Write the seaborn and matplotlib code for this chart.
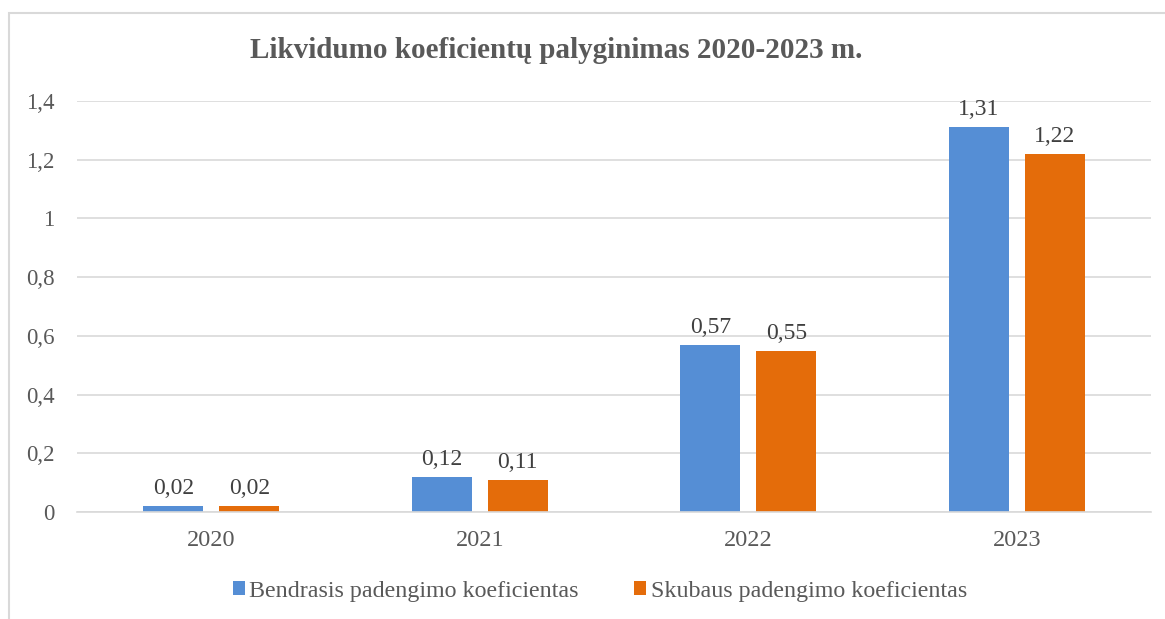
import matplotlib
matplotlib.use("Agg")
import matplotlib.pyplot as plt
import seaborn as sns
import pandas as pd
from matplotlib.patches import Rectangle, Patch
from matplotlib.ticker import FuncFormatter

years = ["2020", "2021", "2022", "2023"]
series_names = ["Bendrasis padengimo koeficientas", "Skubaus padengimo koeficientas"]
bendrasis = [0.02, 0.12, 0.57, 1.31]
skubaus = [0.02, 0.11, 0.55, 1.22]
yticks = [0, 0.2, 0.4, 0.6, 0.8, 1.0, 1.2, 1.4]
title = "Likvidumo koeficientų palyginimas 2020-2023 m."
colors = ["#558ED5", "#E46C0A"]

df = pd.DataFrame({
    "Metai": years * 2,
    "Reikšmė": bendrasis + skubaus,
    "Serija": [series_names[0]] * 4 + [series_names[1]] * 4,
})

sns.set_theme(style="white")
plt.rcParams["font.family"] = ["Liberation Serif", "DejaVu Serif"]

fig = plt.figure(figsize=(11.65, 6.19), dpi=100)
ax = fig.add_axes([77 / 1165, 1 - 512 / 619, (1151 - 77) / 1165, (512 - 101) / 619])

sns.barplot(data=df, x="Metai", y="Reikšmė", hue="Serija", palette=colors,
            width=0.567, gap=0.21, ax=ax, legend=False, saturation=1, linewidth=0)

def fmt(v):
    s = f"{v:.2f}".rstrip("0").rstrip(".") if v != 0 else "0"
    return s.replace(".", ",")

for cont in ax.containers:
    ax.bar_label(cont, labels=[f"{b.get_height():.2f}".replace(".", ",") for b in cont],
                 padding=5, fontsize=17, color="#404040")

ax.set_ylim(0, 1.4)
ax.set_yticks(yticks)
ax.yaxis.set_major_formatter(FuncFormatter(lambda v, p: fmt(round(v, 2))))
ax.set_xlim(-0.5, 3.5)
ax.grid(axis="y", color="#D9D9D9", linewidth=1.2)
ax.set_axisbelow(True)
for s in ["left", "right", "top"]:
    ax.spines[s].set_visible(False)
ax.spines["bottom"].set_color("#D9D9D9")
ax.spines["bottom"].set_linewidth(1.2)
ax.tick_params(axis="y", length=0, pad=16, labelsize=16.5, labelcolor="#595959")
ax.tick_params(axis="x", length=0, pad=13, labelsize=17.5, labelcolor="#595959")
ax.set_xlabel("")
ax.set_ylabel("")

fig.text(556 / 1165, 1 - 51 / 619, title, ha="center", va="center",
         fontsize=21, fontweight="bold", color="#595959")

handles = [Patch(facecolor=c, edgecolor="none") for c in colors]
fig.legend(handles, series_names, loc="center", bbox_to_anchor=(600 / 1165, 1 - 591 / 619),
           ncol=2, frameon=False, fontsize=17.3, labelcolor="#595959",
           handlelength=0.5, handleheight=0.5, handletextpad=0.2, columnspacing=2.3)

fig.patches.append(Rectangle((8.5 / 1165, -0.1), 1.2, 1 - 13.5 / 619 + 0.1,
                             transform=fig.transFigure, fill=False,
                             edgecolor="#D9D9D9", linewidth=1.5, zorder=0))

fig.savefig("out.png", dpi=100, facecolor="white")
